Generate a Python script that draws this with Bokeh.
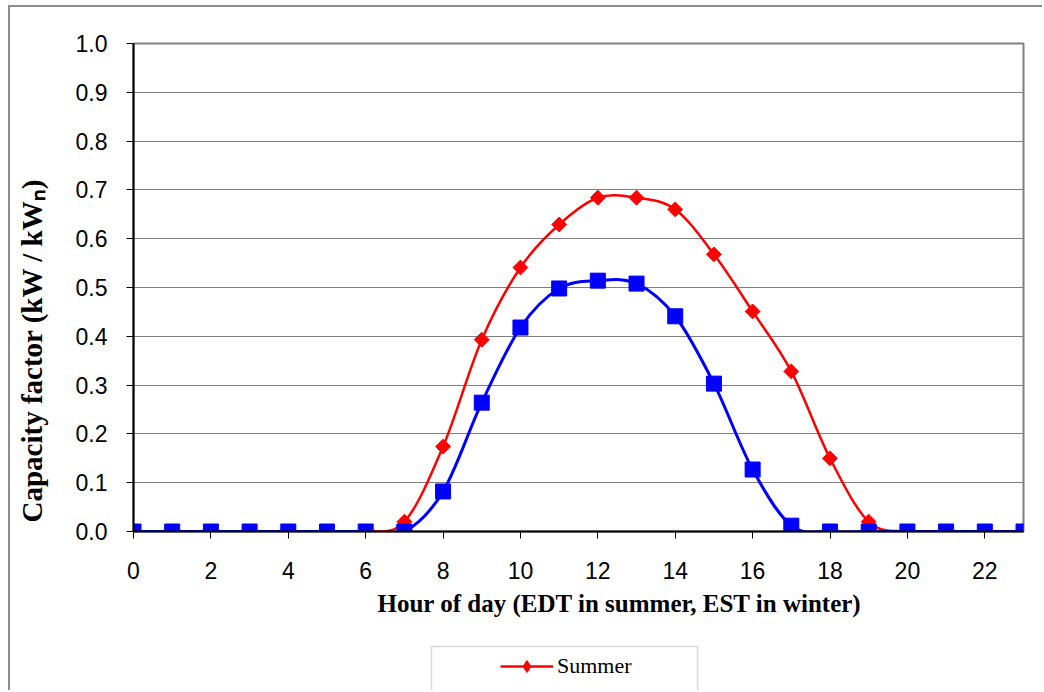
import numpy as np
from bokeh.plotting import figure
from bokeh.layouts import column
from bokeh.models import (ColumnDataSource, Legend, LegendItem, Title, BoxAnnotation,
                          FixedTicker, Range1d, NumeralTickFormatter)
from bokeh.embed import file_html
from bokeh.resources import INLINE

# ---------------- data ----------------
hours = list(range(24))
summer = [0, 0, 0, 0, 0, 0, 0, 0.020, 0.174, 0.393, 0.541, 0.629, 0.684, 0.684,
          0.660, 0.568, 0.451, 0.328, 0.150, 0.020, 0, 0, 0, 0]
winter = [0, 0, 0, 0, 0, 0, 0, 0.000, 0.082, 0.264, 0.418, 0.498, 0.514, 0.508,
          0.441, 0.303, 0.127, 0.012, 0, 0, 0, 0, 0, 0]
series_names = ["Summer", "Winter"]
x_ticks = list(range(0, 23, 2))
y_ticks = [0.0, 0.1, 0.2, 0.3, 0.4, 0.5, 0.6, 0.7, 0.8, 0.9, 1.0]
x_title = "Hour of day (EDT in summer, EST in winter)"
y_title = "Capacity factor (kW / kWₙ)"


def smooth_segments(x, y):
    """Excel-like smoothed line: cubic Bezier segments (Catmull-Rom control points)."""
    x = np.asarray(x, float)
    y = np.asarray(y, float)
    n = len(x)
    xp = np.concatenate([[x[0]], x, [x[-1]]])
    yp = np.concatenate([[y[0]], y, [y[-1]]])
    return dict(
        x0=x[:-1], y0=y[:-1], x1=x[1:], y1=y[1:],
        cx0=x[:-1] + (xp[2:n + 1] - xp[0:n - 1]) / 6.0,
        cy0=y[:-1] + (yp[2:n + 1] - yp[0:n - 1]) / 6.0,
        cx1=x[1:] - (xp[3:n + 2] - xp[1:n]) / 6.0,
        cy1=y[1:] - (yp[3:n + 2] - yp[1:n]) / 6.0,
    )


BORDER = "2px solid #8c8c8c"
colors = {"Summer": "#ff0000", "Winter": "#0000ff"}
series = {"Summer": summer, "Winter": winter}
widths = {"Summer": 2.5, "Winter": 3}

p = figure(width=1034, height=638, x_range=Range1d(0, 23), y_range=Range1d(0, 1),
           output_backend="svg", toolbar_location=None,
           min_border_left=123, min_border_right=21, min_border_top=36, min_border_bottom=114)
p.styles = {"margin-left": "8px", "margin-top": "5px",
            "border-left": BORDER, "border-top": BORDER}
p.background_fill_color = "white"
p.border_fill_color = "white"
p.outline_line_color = "#808080"
p.outline_line_width = 2

p.xgrid.visible = False
p.ygrid.grid_line_color = "#7f7f7f"
p.ygrid.grid_line_width = 1
p.ygrid.ticker = FixedTicker(ticks=y_ticks)

p.xaxis.ticker = FixedTicker(ticks=x_ticks)
p.yaxis.ticker = FixedTicker(ticks=y_ticks)
p.yaxis.formatter = NumeralTickFormatter(format="0.0")
for ax in (p.xaxis, p.yaxis):
    ax.axis_line_color = "black"
    ax.axis_line_width = 2
    ax.major_tick_line_color = "black"
    ax.major_tick_line_width = 1
    ax.major_tick_in = 0
    ax.major_tick_out = 7
    ax.minor_tick_line_color = None
    ax.major_label_text_font = "Liberation Sans"
    ax.major_label_text_font_size = "23px"
    ax.major_label_text_color = "black"
p.yaxis.major_label_standoff = 19
p.xaxis.major_label_standoff = 23
# blank spacer label: widens the y-axis panel so the rotated title sits near the chart edge
p.yaxis.axis_label = " "
p.yaxis.axis_label_text_font_size = "1px"
p.yaxis.axis_label_standoff = 18

for name in series_names:
    seg = ColumnDataSource(smooth_segments(hours, series[name]))
    p.bezier(x0="x0", y0="y0", x1="x1", y1="y1", cx0="cx0", cy0="cy0", cx1="cx1", cy1="cy1",
             source=seg, line_color=colors[name], line_width=widths[name])

for name in series_names:
    c = colors[name]
    src = ColumnDataSource(dict(x=hours, y=series[name]))
    if name == "Summer":
        p.scatter("x", "y", source=src, marker="square", angle=np.pi / 4, size=10.5,
                  fill_color=c, line_color=c)
    else:
        p.scatter("x", "y", source=src, marker="square", size=15,
                  fill_color=c, line_color=c)

# axis titles (side panels, not clipped)
p.add_layout(Title(text=y_title, align="left", offset=9, standoff=6,
                   text_font="Liberation Serif", text_font_style="bold",
                   text_font_size="29px", text_color="black"), "left")
p.add_layout(Title(text=x_title, align="left", offset=244, standoff=13,
                   text_font="Liberation Serif", text_font_style="bold",
                   text_font_size="25px", text_color="black"), "below")

# ---------------- legend strip (the legend box runs off the bottom of the page) ----------------
lg = figure(width=1034, height=47, x_range=Range1d(133, 1023), y_range=Range1d(0, 47),
            output_backend="svg", toolbar_location=None, x_axis_type=None, y_axis_type=None,
            min_border_left=123, min_border_right=21, min_border_top=0, min_border_bottom=0)
lg.styles = {"margin-left": "8px", "border-left": BORDER}
lg.outline_line_color = None
lg.background_fill_color = "white"
lg.border_fill_color = "white"
lg.add_layout(BoxAnnotation(left=431, right=697, top=44, bottom=-20, fill_alpha=0,
                            line_color="#808080", line_width=1.5))

name = series_names[0]
# the Summer series itself, drawn in the strip but kept out of its view by the ranges
src_l = ColumnDataSource(dict(x=hours, y=series[name]))
ln = lg.line("x", "y", source=src_l, line_color=colors[name], line_width=widths[name])
mk = lg.scatter("x", "y", source=src_l, marker="diamond", size=10,
                fill_color=colors[name], line_color=colors[name])
legend = Legend(items=[LegendItem(label=name, renderers=[ln, mk])],
                location=(367, 9), orientation="vertical", padding=0, margin=0,
                glyph_width=53, glyph_height=30, label_standoff=4,
                label_text_font="Liberation Serif", label_text_font_size="22px",
                label_text_color="black", border_line_alpha=0, background_fill_alpha=0)
lg.add_layout(legend)

layout = column(p, lg, spacing=0)
open("out.html", "w").write(file_html(layout, INLINE))
